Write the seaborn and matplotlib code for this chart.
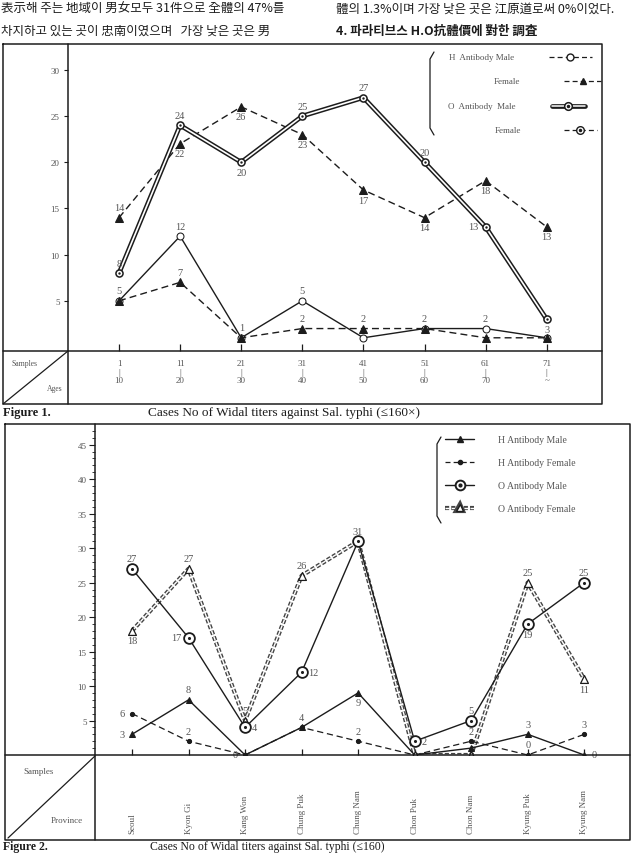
import numpy as np
import pandas as pd
import matplotlib
matplotlib.use("Agg")
import matplotlib.pyplot as plt
import matplotlib.patheffects as pe
from matplotlib.lines import Line2D
from matplotlib.transforms import blended_transform_factory
import seaborn as sns

# ---------------- data: Figure 1 (by age) ----------------
ages = ["1\n|\n10", "11\n|\n20", "21\n|\n30", "31\n|\n40",
        "41\n|\n50", "51\n|\n60", "61\n|\n70", "71\n|\n~"]
h_male_age = [5, 12, 1, 5, 1, 2, 2, 1]
h_female_age = [5, 7, 1, 2, 2, 2, 1, 1]
o_male_age = [8, 24, 20, 25, 27, 20, 13, 3]
o_female_age = [14, 22, 26, 23, 17, 14, 18, 13]

# ---------------- data: Figure 2 (by province) ----------------
provinces = ["Seoul", "Kyon Gi", "Kang Won", "Chung Puk", "Chung Nam",
             "Chon Puk", "Chon Nam", "Kyung Puk", "Kyung Nam"]
h_male_prov = [3, 8, 0, 4, 9, 0, 1, 3, 0]
h_female_prov = [6, 2, 0, 4, 2, 0, 2, 0, 3]
o_male_prov = [27, 17, 4, 12, 31, 2, 5, 19, 25]
o_female_prov = [18, 27, 5, 26, 31, 0, 0, 25, 11]

# label placement codes (a=above, b=below, l=left, r=right, None=no label)
lab_o_female_age = ['a', 'b', 'b', 'b', 'b', 'b', 'b', 'b']
lab_o_male_age = ['a', 'a', 'b', 'a', 'a', 'a', 'l', 'b']
lab_h_male_age = ['a', 'a', 'a', 'a', None, 'a', 'a', None]
lab_h_female_age = [None, 'a', None, 'a', 'a', None, None, None]

lab_o_male_prov = ['a', 'l', 'r', 'r', 'a', 'r', 'a', 'b', 'a']
lab_o_female_prov = ['b', 'a', 'a', 'a', None, None, None, 'a', 'b']
lab_h_male_prov = ['l', 'a', None, 'a', 'b', None, None, 'a', 'r']
lab_h_female_prov = ['l', 'a', 'l', None, 'a', None, 'a', 'a', 'a']

W, H = 634, 854
INK = "#1c1c1c"
GREY = "#555555"
SERIF = ["Liberation Serif", "DejaVu Serif"]
CJK = ["Noto Sans CJK KR", "DejaVu Sans"]

sns.set_theme(style="white")
plt.rcParams["font.family"] = SERIF
plt.rcParams["mathtext.fontset"] = "dejavuserif"

fig = plt.figure(figsize=(W / 100, H / 100), dpi=100)
fig.patch.set_facecolor("white")


def fx(px):
    return px / W


def fy(py):
    return 1 - py / H


def fline(xs, ys, lw=1.0, color=INK, **kw):
    fig.add_artist(Line2D([fx(v) for v in xs], [fy(v) for v in ys],
                          transform=fig.transFigure, color=color, lw=lw, **kw))


def bracket(x, y0, y1):
    fline([x + 4, x, x, x + 4], [y0, y0 + 7, y1 - 7, y1], lw=0.9)


def label_points(ax, values, codes, fs=7.5, color=GREY):
    offs = {'a': ((0, 4), 'center', 'bottom'), 'b': ((0, -4), 'center', 'top'),
            'l': ((-5, 0), 'right', 'center'), 'r': ((5, 0), 'left', 'center')}
    for i, (v, c) in enumerate(zip(values, codes)):
        if c is None:
            continue
        off, ha, va = offs[c]
        ax.annotate(str(v), (i, v), xytext=off, textcoords="offset points",
                    ha=ha, va=va, fontsize=fs, color=color)


double_fx = [pe.Stroke(linewidth=3.4, foreground=INK), pe.Normal()]

# ---------------- header text ----------------
fig.text(fx(1), fy(9), "表示해 주는 地域이 男女모두 31件으로 全體의 47%를",
         family=CJK, fontsize=9, va="center", color=INK)
fig.text(fx(1), fy(31), "차지하고 있는 곳이 忠南이였으며   가장 낮은 곳은 男",
         family=CJK, fontsize=9, va="center", color=INK)
fig.text(fx(336), fy(9), "體의 1.3%이며 가장 낮은 곳은 江原道로써 0%이었다.",
         family=CJK, fontsize=9, va="center", color=INK)
fig.text(fx(336), fy(31), "4. 파라티브스 H.O抗體價에 對한 調査",
         family=CJK, fontsize=9, va="center", color=INK, fontweight="bold")

# =============== Figure 1 ===============
x1 = np.arange(len(ages))
ax1 = fig.add_axes([fx(68), fy(352), (602 - 68) / W, (352 - 45) / H])
ax1.set_xlim(-0.835, 7.905)
ax1.set_ylim(-0.43, 32.8)
for s in ax1.spines.values():
    s.set_visible(False)

sns.lineplot(x=x1, y=o_female_age, ax=ax1, color=INK, lw=1.0, linestyle=(0, (5, 3)),
             marker="^", markersize=6, markerfacecolor=INK, markeredgecolor=INK)
sns.lineplot(x=x1, y=o_male_age, ax=ax1, color="white", lw=1.2,
             path_effects=double_fx)
sns.scatterplot(x=x1, y=o_male_age, ax=ax1, marker="o", s=26, facecolor="white",
                edgecolor=INK, linewidth=1.1, zorder=4)
sns.scatterplot(x=x1, y=o_male_age, ax=ax1, marker="o", s=3, color=INK,
                linewidth=0, zorder=5)
sns.lineplot(x=x1, y=h_male_age, ax=ax1, color=INK, lw=1.0,
             marker="o", markersize=5, markerfacecolor="white", markeredgecolor=INK)
sns.lineplot(x=x1, y=h_female_age, ax=ax1, color=INK, lw=1.0, linestyle=(0, (5, 3)),
             marker="^", markersize=6, markerfacecolor=INK, markeredgecolor=INK)

label_points(ax1, o_female_age, lab_o_female_age)
label_points(ax1, o_male_age, lab_o_male_age)
label_points(ax1, h_male_age, lab_h_male_age)
label_points(ax1, h_female_age, lab_h_female_age)

ax1.set_yticks([5, 10, 15, 20, 25, 30])
ax1.tick_params(axis="y", direction="out", length=3, width=0.8, pad=3,
                labelsize=6.5, labelcolor=GREY, colors=INK, left=True)
ax1.set_xticks(x1, ages)
ax1.tick_params(axis="x", direction="in", length=5, width=0.9, pad=6,
                labelsize=6.5, labelcolor=GREY, colors=INK, bottom=True)
for t in ax1.get_xticklabels():
    t.set_linespacing(1.05)
ax1.set_xlabel("")
ax1.set_ylabel("")
ax1.grid(False)

# frame of Figure 1
fline([3, 602, 602, 3, 3], [45, 45, 405, 405, 45], lw=1.1)
fline([3, 602], [352, 352], lw=1.1)
fline([68, 68], [45, 405], lw=1.1)
fline([3, 68], [405, 352], lw=0.9)
fig.text(fx(11), fy(364), "Samples", fontsize=5.5, color=GREY, va="center")
fig.text(fx(47), fy(389), "Ages", fontsize=5.5, color=GREY, va="center")

# legend of Figure 1 (drawn by hand to mimic the printed key)
bracket(430, 53, 136)
fig.text(fx(449), fy(58), "H  Antibody Male", fontsize=6.5, color=GREY, va="center")
fig.text(fx(494), fy(82), "Female", fontsize=6.5, color=GREY, va="center")
fig.text(fx(448), fy(107), "O  Antibody  Male", fontsize=6.5, color=GREY, va="center")
fig.text(fx(495), fy(131), "Female", fontsize=6.5, color=GREY, va="center")
fline([549, 592], [58, 58], lw=0.9, ls=(0, (4, 2.5)))
fline([570], [58], lw=0, marker="o", ms=5, mfc="white", mec=INK)
fline([564, 601], [82, 82], lw=0.9, ls=(0, (4, 2.5)))
fline([583], [82], lw=0, marker="^", ms=5, mfc=INK, mec=INK)
fline([552, 585], [107, 107], lw=1.1, color="white", path_effects=double_fx)
fline([568], [107], lw=0, marker="o", ms=5.5, mfc="white", mec=INK, mew=1.1)
fline([568], [107], lw=0, marker="o", ms=1.5, mfc=INK, mec=INK)
fline([564, 597], [131, 131], lw=0.9, ls=(0, (4, 2.5)))
fline([580], [131], lw=0, marker="o", ms=5.5, mfc="white", mec=INK, mew=1.0)
fline([580], [131], lw=0, marker="o", ms=1.5, mfc=INK, mec=INK)

fig.text(fx(3), fy(413), "Figure 1.", fontsize=9, fontweight="bold", color=INK, va="center")
fig.text(fx(148), fy(413), "Cases No of Widal titers against Sal. typhi (\u2264160\u00d7)",
         fontsize=9.5, color=INK, va="center")

# =============== Figure 2 ===============
x2 = np.arange(len(provinces))
ax2 = fig.add_axes([fx(95), fy(756), (630 - 95) / W, (756 - 425) / H])
ax2.set_xlim(-0.655, 8.81)
ax2.set_ylim(0, 48)
for s in ax2.spines.values():
    s.set_visible(False)

sns.lineplot(x=x2, y=o_female_prov, ax=ax2, color="white", lw=1.0,
             linestyle=(0, (3, 1.5)), path_effects=[pe.Stroke(linewidth=3.0, foreground="#444"), pe.Normal()])
sns.scatterplot(x=x2, y=o_female_prov, ax=ax2, marker="^", s=32, facecolor="white",
                edgecolor=INK, linewidth=0.9, zorder=4)
sns.lineplot(x=x2, y=o_male_prov, ax=ax2, color=INK, lw=1.0)
sns.scatterplot(x=x2, y=o_male_prov, ax=ax2, marker="o", s=60, facecolor="white",
                edgecolor=INK, linewidth=1.3, zorder=5)
sns.scatterplot(x=x2, y=o_male_prov, ax=ax2, marker="o", s=5, color=INK,
                linewidth=0, zorder=6)
sns.lineplot(x=x2, y=h_male_prov, ax=ax2, color=INK, lw=1.0,
             marker="^", markersize=5, markerfacecolor=INK, markeredgecolor=INK)
sns.lineplot(x=x2, y=h_female_prov, ax=ax2, color=INK, lw=0.9, linestyle=(0, (5, 3)),
             marker="o", markersize=3, markerfacecolor=INK, markeredgecolor=INK)

label_points(ax2, o_male_prov, lab_o_male_prov)
label_points(ax2, o_female_prov, lab_o_female_prov)
label_points(ax2, h_male_prov, lab_h_male_prov)
label_points(ax2, h_female_prov, lab_h_female_prov)

ax2.set_yticks(range(5, 46, 5))
ax2.set_yticks(range(1, 48), minor=True)
ax2.tick_params(axis="y", which="major", direction="out", length=4, width=0.8, pad=2,
                labelsize=6.5, labelcolor=GREY, colors=INK, left=True)
ax2.tick_params(axis="y", which="minor", direction="out", length=2.2, width=0.6,
                colors=INK, left=True)
ax2.set_xticks(x2)
ax2.tick_params(axis="x", direction="in", length=4, width=0.9, labelbottom=False,
                colors=INK, bottom=True)
ax2.set_xlabel("")
ax2.set_ylabel("")
ax2.grid(False)

trans = blended_transform_factory(ax2.transData, fig.transFigure)
for i, name in zip(x2, provinces):
    ax2.text(i, fy(834), name, transform=trans, rotation=90, ha="center", va="bottom",
             fontsize=6.5, color=GREY, clip_on=False)

fline([5, 630, 630, 5, 5], [425, 425, 841, 841, 425], lw=1.1)
fline([5, 630], [756, 756], lw=1.1)
fline([95, 95], [425, 841], lw=1.1)
fline([8, 95], [839, 757], lw=0.9)
fig.text(fx(23), fy(772), "Samples", fontsize=6.5, color=GREY, va="center")
fig.text(fx(51), fy(821), "Province", fontsize=6.5, color=GREY, va="center")

# legend of Figure 2
bracket(437, 438, 524)
dot = Line2D([], [], lw=0, marker="o", ms=2, mfc=INK, mec=INK)
handles = [
    Line2D([], [], color=INK, lw=1.0, marker="^", ms=4.5, mfc=INK, mec=INK),
    Line2D([], [], color=INK, lw=0.9, ls=(0, (4, 2.5)), marker="o", ms=3, mfc=INK, mec=INK),
    (Line2D([], [], color=INK, lw=1.0, marker="o", ms=7, mfc="white", mec=INK, mew=1.4), dot),
    Line2D([], [], color="white", lw=1.0, ls=(0, (3, 1.5)), marker="^", ms=5, mfc="white",
           mec=INK, path_effects=[pe.Stroke(linewidth=3.0, foreground="#444"), pe.Normal()]),
]
labels = ["H Antibody Male", "H Antibody Female", "O Antibody Male", "O Antibody Female"]
fig.legend(handles, labels, loc="upper left", bbox_to_anchor=(fx(445), fy(436)),
           frameon=False, fontsize=7, labelcolor=GREY, handlelength=3.0,
           handletextpad=2.4, labelspacing=1.45, borderaxespad=0, borderpad=0)

fig.text(fx(3), fy(853.5), "Figure 2.", fontsize=8.5, fontweight="bold", color=INK, va="bottom")
fig.text(fx(150), fy(853.5), "Cases No of Widal titers against Sal. typhi (\u2264160)",
         fontsize=8.5, color=INK, va="bottom")

fig.savefig("out.png", dpi=100, facecolor="white")
